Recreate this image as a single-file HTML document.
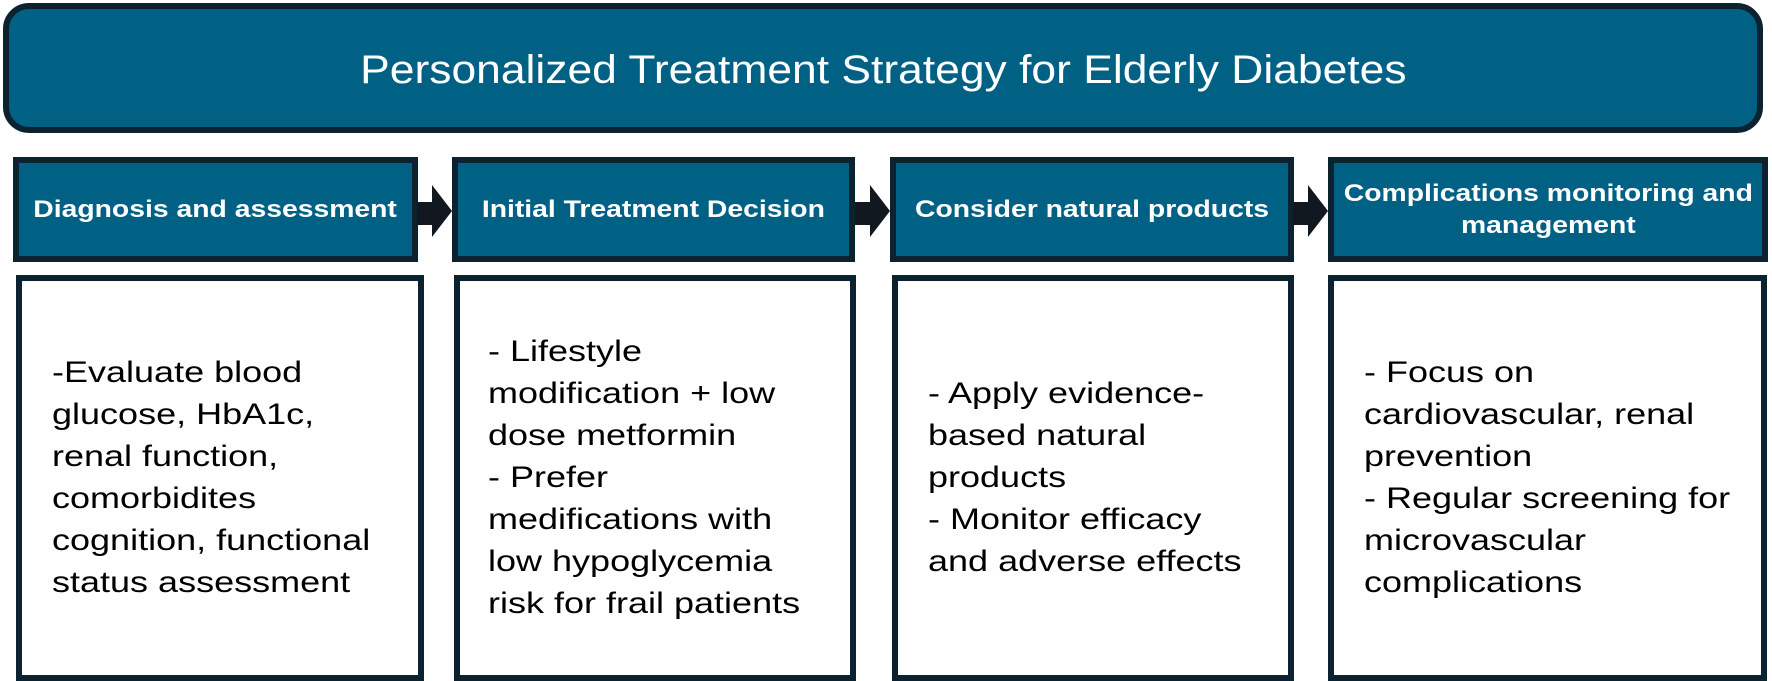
<!DOCTYPE html>
<html><head><meta charset="utf-8"><style>
body{margin:0;width:1772px;height:681px;background:#fff;position:relative;overflow:hidden;font-family:"Liberation Sans",Arial,sans-serif}
.t{position:absolute;left:3px;top:3px;width:1748px;height:118px;background:#006185;border:6px solid #0c2230;border-radius:26px;color:#fff;font-size:40px;display:flex;align-items:center;justify-content:center}
.t span{display:inline-block;transform:scaleX(1.11);margin-top:4px}
.h{position:absolute;top:157px;height:93px;background:#006185;border:6px solid #0c2230;color:#fff;font-weight:bold;font-size:24px;display:flex;align-items:center;justify-content:center;text-align:center;line-height:32px;box-sizing:content-box}
.h span{display:inline-block;transform:scaleX(1.18);white-space:nowrap}
.b{position:absolute;top:275px;height:394px;border:6px solid #0c2230;background:#fff;color:#000;font-size:30px;line-height:42px;display:flex;align-items:center;padding-left:30px;box-sizing:content-box}
.b div{transform:scaleX(1.2);transform-origin:left center;white-space:nowrap}
.a{position:absolute;top:185px}
</style></head><body>
<div class="t"><span>Personalized Treatment Strategy for Elderly Diabetes</span></div>

<div class="h" style="left:13px;width:393px"><span>Diagnosis and assessment</span></div>
<div class="h" style="left:452px;width:391px"><span>Initial Treatment Decision</span></div>
<div class="h" style="left:890px;width:392px"><span>Consider natural products</span></div>
<div class="h" style="left:1328px;width:428px"><span>Complications monitoring and<br>management</span></div>

<svg class="a" style="left:417px" width="36" height="54"><polygon points="0,17 15,17 15,0 35,26 15,52 15,40 0,40" fill="#111820"/></svg>
<svg class="a" style="left:855px" width="36" height="54"><polygon points="0,17 15,17 15,0 35,26 15,52 15,40 0,40" fill="#111820"/></svg>
<svg class="a" style="left:1293px" width="36" height="54"><polygon points="0,17 15,17 15,0 35,26 15,52 15,40 0,40" fill="#111820"/></svg>

<div class="b" style="left:16px;width:366px;padding-left:30px"><div>-Evaluate blood<br>glucose, HbA1c,<br>renal function,<br>comorbidites<br>cognition, functional<br>status assessment</div></div>
<div class="b" style="left:454px;width:362px;padding-left:28px"><div>- Lifestyle<br>modification + low<br>dose metformin<br>- Prefer<br>medifications with<br>low hypoglycemia<br>risk for frail patients</div></div>
<div class="b" style="left:892px;width:360px;padding-left:30px"><div>- Apply evidence-<br>based natural<br>products<br>- Monitor efficacy<br>and adverse effects</div></div>
<div class="b" style="left:1328px;width:397px;padding-left:30px"><div>- Focus on<br>cardiovascular, renal<br>prevention<br>- Regular screening for<br>microvascular<br>complications</div></div>
</body></html>
